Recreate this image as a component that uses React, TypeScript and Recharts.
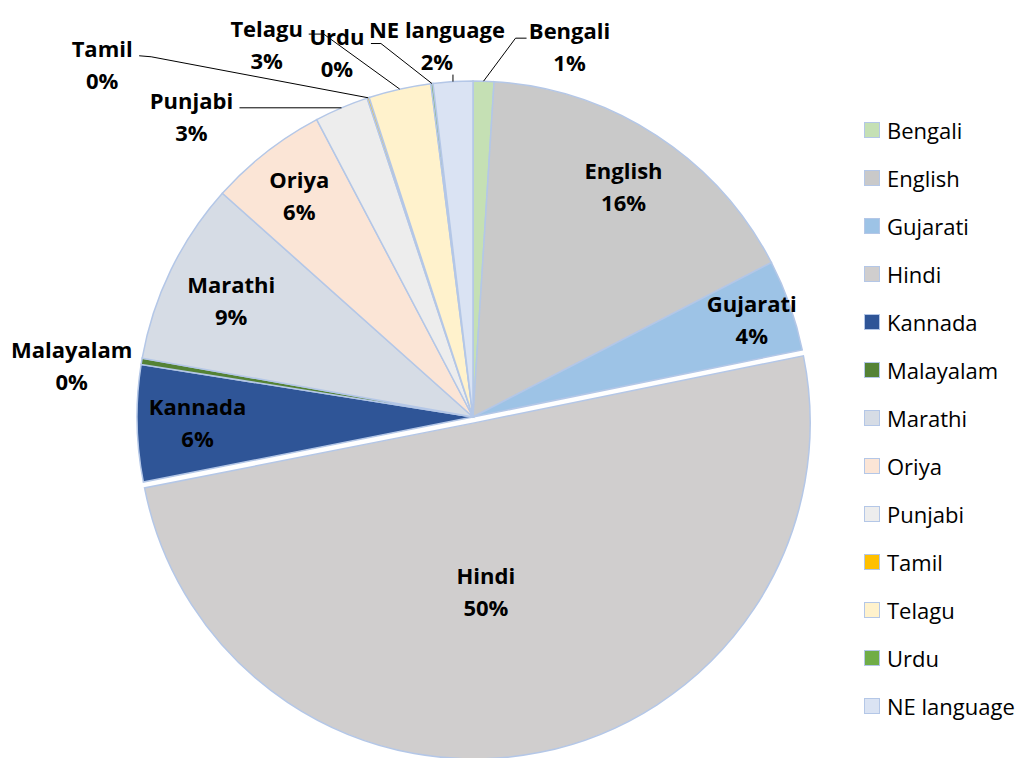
import React from 'react';
import { PieChart, Pie, Cell, Legend } from 'recharts';

const categories = ['Bengali', 'English', 'Gujarati', 'Hindi', 'Kannada', 'Malayalam', 'Marathi', 'Oriya', 'Punjabi', 'Tamil', 'Telagu', 'Urdu', 'NE language'];
const shares = [1.0, 16.4, 4.4, 50.1, 5.6, 0.3, 8.8, 5.7, 2.6, 0.1, 3.0, 0.1, 1.9];
const colors = ['#c5e0b4', '#c9c9c9', '#9dc3e6', '#d0cece', '#2f5597', '#548235', '#d6dce5', '#fbe5d6', '#ededed', '#ffc000', '#fff2cc', '#70ad47', '#dae3f3'];
const explodedCategory = 'Hindi';

const data = categories.map((name, i) => ({ name, value: shares[i] }));

const FONT = '"Open Sans", sans-serif';
const EDGE = '#b4c7e7';
const CX = 473;
const CY = 417;
const R = 336;
const EXPLODE = 6;
const RAD = Math.PI / 180;

type Placement =
  | { kind: 'in'; r: number; dx?: number; dy?: number }
  | { kind: 'out'; dx: number; dy: number; leader: [number, number][] };

const labelPlacement: Record<string, Placement> = {
  Bengali: { kind: 'out', dx: 86, dy: -35, leader: [[-54, -8], [-43, -8]] },
  English: { kind: 'in', r: 0.82 },
  Gujarati: { kind: 'in', r: 0.88 },
  Hindi: { kind: 'in', r: 0.51, dx: -22 },
  Kannada: { kind: 'in', r: 0.82 },
  Malayalam: { kind: 'out', dx: -70, dy: 4, leader: [] },
  Marathi: { kind: 'in', r: 0.8 },
  Oriya: { kind: 'in', r: 0.84 },
  Punjabi: { kind: 'out', dx: -150, dy: 8, leader: [[48, -8]] },
  Tamil: { kind: 'out', dx: -266, dy: -34, leader: [[49, -7], [37, -8]] },
  Telagu: { kind: 'out', dx: -133, dy: -45, leader: [[57, -10], [42, -10]] },
  Urdu: { kind: 'out', dx: -95, dy: -32, leader: [[44, -8], [34, -8]] },
  'NE language': { kind: 'out', dx: -16, dy: -37, leader: [[16, 30]] },
};

// offset of the exploded slice, along its own mid angle
const total = shares.reduce((a, b) => a + b, 0);
const hIdx = categories.indexOf(explodedCategory);
const before = shares.slice(0, hIdx).reduce((a, b) => a + b, 0);
const hMid = ((before + shares[hIdx] / 2) / total) * 360;
const offX = EXPLODE * Math.sin(hMid * RAD);
const offY = -EXPLODE * Math.cos(hMid * RAD);

function makeLabel(show: (name: string) => boolean) {
  return (props: any) => {
    const { cx, cy, midAngle, outerRadius, percent } = props;
    const name: string = props.name ?? props.payload?.name;
    if (!show(name)) return null;
    const pl = labelPlacement[name];
    if (!pl) return null;
    const c = Math.cos(-midAngle * RAD);
    const s = Math.sin(-midAngle * RAD);
    const ox = cx + outerRadius * c;
    const oy = cy + outerRadius * s;
    let lx: number;
    let ly: number;
    let path: string | null = null;
    if (pl.kind === 'in') {
      lx = cx + outerRadius * pl.r * c + (pl.dx || 0);
      ly = cy + outerRadius * pl.r * s + (pl.dy || 0);
    } else {
      lx = ox + pl.dx;
      ly = oy + pl.dy;
      if (pl.leader.length) {
        const pts = [[ox, oy], ...pl.leader.map(([a, b]) => [lx + a, ly + b])];
        path = 'M' + pts.map((p) => p.join(',')).join('L');
      }
    }
    const pct = Math.round(percent * 100) + '%';
    const textStyle = { fontFamily: FONT, fontSize: 22, fontWeight: 700, fill: '#000' } as const;
    return (
      <g>
        {path && <path d={path} stroke="#000" strokeWidth={1} fill="none" />}
        <text x={lx} y={ly - 16} textAnchor="middle" dominantBaseline="central" style={textStyle}>
          {name}
        </text>
        <text x={lx} y={ly + 16} textAnchor="middle" dominantBaseline="central" style={textStyle}>
          {pct}
        </text>
      </g>
    );
  };
}

const LegendList = ({ payload }: any) => {
  const seen = new Set<string>();
  const items = (payload || [])
    .filter((item: any) => {
      if (seen.has(item.value)) return false;
      seen.add(item.value);
      return categories.includes(item.value);
    })
    .sort((a: any, b: any) => categories.indexOf(a.value) - categories.indexOf(b.value));
  return (
    <div style={{ fontFamily: FONT, fontSize: 22, color: '#000' }}>
      {items.map((item: any) => {
        const i = categories.indexOf(item.value);
        return (
          <div key={item.value} style={{ display: 'flex', alignItems: 'center', height: 48 }}>
            <span
              style={{
                width: 14,
                height: 14,
                background: colors[i],
                border: `1px solid ${EDGE}`,
                marginRight: 7,
                display: 'inline-block',
                flex: 'none',
              }}
            />
            <span style={{ lineHeight: '48px', whiteSpace: 'nowrap' }}>{item.value}</span>
          </div>
        );
      })}
    </div>
  );
};

export default function App() {
  return (
    <div style={{ position: 'absolute', left: 0, top: 0, width: 1021, height: 758, background: '#fff' }}>
      <PieChart width={1021} height={758} margin={{ top: 0, right: 0, bottom: 0, left: 0 }}>
        <Pie
          data={data}
          dataKey="value"
          nameKey="name"
          cx={CX}
          cy={CY}
          outerRadius={R}
          startAngle={90}
          endAngle={-270}
          isAnimationActive={false}
          labelLine={false}
          label={makeLabel((n) => n !== explodedCategory)}
        >
          {data.map((d, i) =>
            d.name === explodedCategory ? (
              <Cell key={d.name} fill="none" stroke="none" />
            ) : (
              <Cell key={d.name} fill={colors[i]} stroke={EDGE} strokeWidth={1.5} />
            )
          )}
        </Pie>
        <Pie
          data={data}
          dataKey="value"
          nameKey="name"
          cx={CX + offX}
          cy={CY + offY}
          outerRadius={R}
          startAngle={90}
          endAngle={-270}
          isAnimationActive={false}
          labelLine={false}
          legendType="none"
          label={makeLabel((n) => n === explodedCategory)}
        >
          {data.map((d, i) =>
            d.name === explodedCategory ? (
              <Cell key={d.name} fill={colors[i]} stroke={EDGE} strokeWidth={1.5} />
            ) : (
              <Cell key={d.name} fill="none" stroke="none" />
            )
          )}
        </Pie>
        <Legend
          layout="vertical"
          align="right"
          verticalAlign="middle"
          content={(p: any) => <LegendList payload={p.payload} />}
          wrapperStyle={{ left: 864, top: 106, right: 'auto', width: 157 }}
        />
      </PieChart>
    </div>
  );
}
